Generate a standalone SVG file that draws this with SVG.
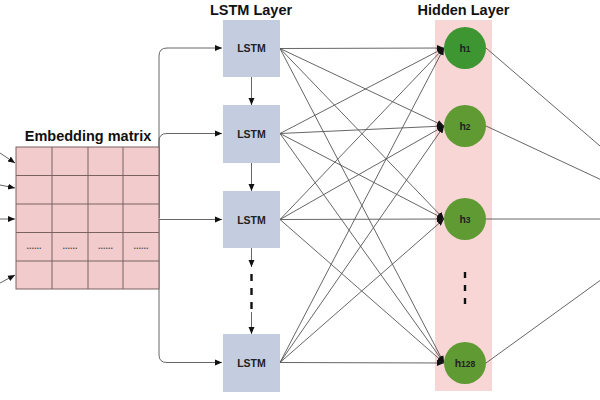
<svg xmlns="http://www.w3.org/2000/svg" width="600" height="400" viewBox="0 0 600 400">
<defs>
<style>
.title{font-family:"Liberation Sans",Arial,sans-serif;font-weight:bold;font-size:14.5px;fill:#111;text-anchor:middle}
.lbl{font-family:"Liberation Sans",Arial,sans-serif;font-weight:bold;font-size:10.5px;fill:#222;text-anchor:middle}
.lstm{fill:#c4cddf;stroke:none}
.hid{fill:#5f9a33}
.e{fill:none;stroke:#555;stroke-width:0.9}
.ea{fill:none;stroke:#555;stroke-width:0.9;marker-end:url(#ah)}
.dash{fill:none;stroke:#111;stroke-width:2.4;stroke-dasharray:7,7}
.grid{fill:none;stroke:#7a6262;stroke-width:1}
</style>
<marker id="ah" markerWidth="8" markerHeight="8" refX="7" refY="4" orient="auto" markerUnits="userSpaceOnUse">
<path d="M0,1 L7,4 L0,7 Z" fill="#111"/>
</marker>
</defs>
<rect width="600" height="400" fill="#fff"/>

<g id="hidden-layer-bg">
<rect x="435" y="20" width="57" height="371" fill="#f8d6d6"/>
</g>

<g id="connectors">
<path class="ea" d="M0,153 L15,163"/>
<path class="ea" d="M0,185 L15,188"/>
<path class="ea" d="M0,219 L15,219"/>
<path class="ea" d="M0,283 L15,275"/>
<path class="ea" d="M159,218 L159,56 Q159,48 167,48 L222,48"/>
<path class="ea" d="M159,218 L159,141 Q159,133.5 167,133.5 L222,133.5"/>
<path class="ea" d="M159,219.5 L222,219.5"/>
<path class="ea" d="M159,220 L159,355 Q159,362.5 167,362.5 L222,362.5"/>
<path class="ea" d="M251.5,77 L251.5,105"/>
<path class="ea" d="M251.5,163 L251.5,191"/>
<path class="ea" d="M251.5,248 L251.5,267"/>
<path class="dash" d="M251.5,274 L251.5,309"/>
<path class="ea" d="M251.5,312 L251.5,334"/>
<path class="ea" d="M280,48.5 L444,48"/>
<path class="ea" d="M280,48.5 L444,126"/>
<path class="ea" d="M280,48.5 L444,219"/>
<path class="ea" d="M280,48.5 L444,363"/>
<path class="ea" d="M280,133.5 L444,48"/>
<path class="ea" d="M280,133.5 L444,126"/>
<path class="ea" d="M280,133.5 L444,219"/>
<path class="ea" d="M280,133.5 L444,363"/>
<path class="ea" d="M280,219.5 L444,48"/>
<path class="ea" d="M280,219.5 L444,126"/>
<path class="ea" d="M280,219.5 L444,219"/>
<path class="ea" d="M280,219.5 L444,363"/>
<path class="ea" d="M280,362.5 L444,48"/>
<path class="ea" d="M280,362.5 L444,126"/>
<path class="ea" d="M280,362.5 L444,219"/>
<path class="ea" d="M280,362.5 L444,363"/>
<path class="e" d="M486,48 L685,219"/>
<path class="e" d="M486,126 L685,219"/>
<path class="e" d="M486,219 L685,219"/>
<path class="e" d="M486,363 L685,219"/>
</g>

<g id="embedding-matrix">
<rect x="16" y="147" width="143" height="142" fill="#f2cccc"/>
<g class="grid">
<rect x="16" y="147" width="143" height="142"/>
<line x1="52" y1="147" x2="52" y2="289"/>
<line x1="88" y1="147" x2="88" y2="289"/>
<line x1="123" y1="147" x2="123" y2="289"/>
<line x1="16" y1="175.5" x2="159" y2="175.5"/>
<line x1="16" y1="204" x2="159" y2="204"/>
<line x1="16" y1="232.5" x2="159" y2="232.5"/>
<line x1="16" y1="261" x2="159" y2="261"/>
</g>
<g font-family="Liberation Sans,Arial,sans-serif" font-size="9" font-weight="bold" fill="#555" text-anchor="middle">
<text x="34" y="249">......</text>
<text x="70" y="249">......</text>
<text x="105.5" y="249">......</text>
<text x="141" y="249">......</text>
</g>
<text class="title" x="88" y="141">Embedding matrix</text>
</g>

<text class="title" x="251" y="15">LSTM Layer</text>
<text class="title" x="463.5" y="15">Hidden Layer</text>

<g id="lstm1"><rect class="lstm" x="223" y="20" width="57" height="57"/><text class="lbl" x="251.5" y="52">LSTM</text></g>
<g id="lstm2"><rect class="lstm" x="223" y="105" width="57" height="58"/><text class="lbl" x="251.5" y="137.5">LSTM</text></g>
<g id="lstm3"><rect class="lstm" x="223" y="191" width="57" height="57"/><text class="lbl" x="251.5" y="223.5">LSTM</text></g>
<g id="lstm4"><rect class="lstm" x="223" y="334" width="57" height="58"/><text class="lbl" x="251.5" y="366.5">LSTM</text></g>

<g id="h1"><circle cx="465" cy="48" r="21" fill="#3e9632"/><text class="lbl" x="465" y="52">h<tspan font-size="8.5">1</tspan></text></g>
<g id="h2"><circle class="hid" cx="465" cy="126" r="21"/><text class="lbl" x="465" y="130">h<tspan font-size="8.5">2</tspan></text></g>
<g id="h3"><circle class="hid" cx="465" cy="219" r="21"/><text class="lbl" x="465" y="223">h<tspan font-size="8.5">3</tspan></text></g>
<g id="h128"><circle class="hid" cx="465" cy="363" r="21"/><text class="lbl" x="465" y="367">h<tspan font-size="8.5">128</tspan></text></g>
<path d="M465,272 L465,307" style="fill:none;stroke:#111;stroke-width:2.4;stroke-dasharray:6,7"/>
</svg>
